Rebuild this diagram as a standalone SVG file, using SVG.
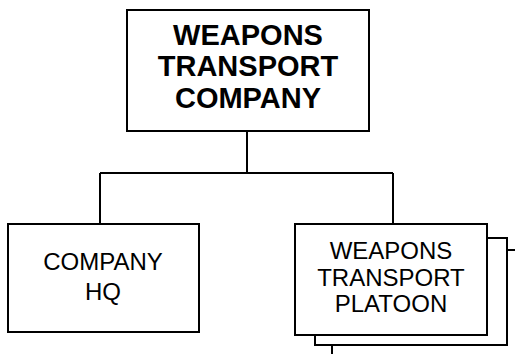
<svg xmlns="http://www.w3.org/2000/svg" width="515" height="354" viewBox="0 0 515 354">
<style>
.box{fill:#fff;stroke:#000;stroke-width:2}
.ln{fill:none;stroke:#000;stroke-width:2}
.b{font-family:"Liberation Sans",Arial,sans-serif;font-weight:bold;font-size:29px;text-anchor:middle;fill:#000}
.r{font-family:"Liberation Sans",Arial,sans-serif;font-size:24px;text-anchor:middle;fill:#000}
</style>
<rect width="515" height="354" fill="#fff"/>
<g id="connectors">
<path class="ln" d="M247,131 V173 M100,173 H393 M100,173 V224 M393,173 V224"/>
</g>
<g id="company">
<rect class="box" x="127" y="10" width="242" height="121"/>
<text class="b" x="248" y="45">WEAPONS</text>
<text class="b" x="248" y="76">TRANSPORT</text>
<text class="b" x="248" y="108">COMPANY</text>
</g>
<g id="hq">
<rect class="box" x="8" y="224" width="191" height="108"/>
<text class="r" x="103" y="270" font-size="26.5">COMPANY</text>
<text class="r" x="103" y="300" font-size="26.5">HQ</text>
</g>
<g id="platoon">
<path class="ln" d="M487,238 H507 V345 H315 V335 M507,250 H515 M332,345 V354"/>
<rect class="box" x="295" y="224" width="192" height="111"/>
<text class="r" x="391" y="259" font-size="23.5">WEAPONS</text>
<text class="r" x="391" y="286" font-size="23.5">TRANSPORT</text>
<text class="r" x="391" y="312" font-size="23.5">PLATOON</text>
</g>
</svg>
